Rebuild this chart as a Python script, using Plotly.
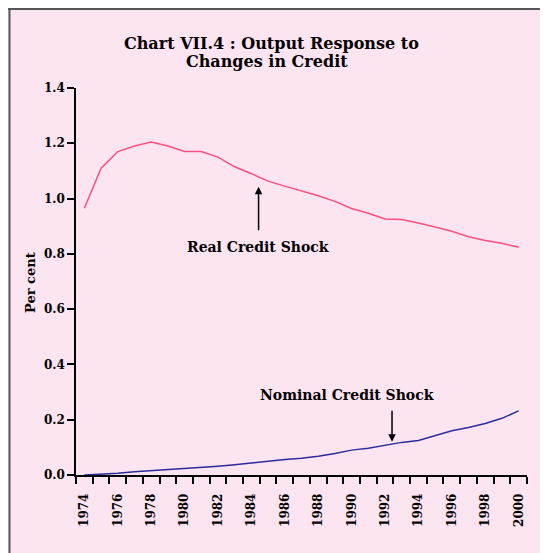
import plotly.graph_objects as go

years = list(range(1974, 2001))
real_credit = [0.965, 1.11, 1.17, 1.19, 1.205, 1.19, 1.17, 1.17, 1.15, 1.115,
               1.09, 1.063, 1.045, 1.028, 1.01, 0.99, 0.964, 0.947, 0.926, 0.924,
               0.912, 0.897, 0.882, 0.862, 0.848, 0.838, 0.824]
nominal_credit = [0.0, 0.002, 0.006, 0.012, 0.016, 0.019, 0.022, 0.027, 0.032, 0.037,
                  0.044, 0.05, 0.056, 0.061, 0.068, 0.078, 0.09, 0.097, 0.108, 0.118,
                  0.125, 0.142, 0.16, 0.172, 0.186, 0.205, 0.232]
x_tick_vals = list(range(1974, 2001, 2))
y_tick_vals = [0.0, 0.2, 0.4, 0.6, 0.8, 1.0, 1.2, 1.4]
title_lines = ["Chart VII.4 : Output Response to", "Changes in Credit"]

FONT = "DejaVu Serif"
PINK = "#fce4f0"

fig = go.Figure()
fig.add_trace(go.Scatter(x=years, y=real_credit, mode="lines",
                         line=dict(color="#ff4f80", width=1.5), name="Real Credit Shock"))
fig.add_trace(go.Scatter(x=years, y=nominal_credit, mode="lines",
                         line=dict(color="#2b2b9b", width=1.5), name="Nominal Credit Shock"))

OFF = 8  # page body margin
L, R, T, B = 76 - OFF, 21, 88 - OFF, 78
W, H = 548 - OFF, 553 - OFF
pw, ph = W - L - R, H - T - B

def px2x(p):
    return (p - OFF - L) / pw

def py2y(p):
    return 1 - (p - OFF - T) / ph

# pink panel with top/left border
fig.add_shape(type="rect", xref="paper", yref="paper",
              x0=px2x(8), x1=px2x(560), y0=py2y(565), y1=py2y(8),
              fillcolor=PINK, line=dict(width=0), layer="below")
fig.add_shape(type="line", xref="paper", yref="paper",
              x0=px2x(8), x1=px2x(560), y0=py2y(9), y1=py2y(9),
              line=dict(color="#555555", width=2), layer="below")
fig.add_shape(type="line", xref="paper", yref="paper",
              x0=px2x(9.5), x1=px2x(9.5), y0=py2y(8), y1=py2y(565),
              line=dict(color="#555555", width=2), layer="below")

fig.update_layout(
    width=W, height=H,
    margin=dict(l=L, r=R, t=T, b=B),
    paper_bgcolor="white",
    plot_bgcolor="rgba(0,0,0,0)",
    showlegend=False,
    font=dict(family=FONT, color="black"),
)

for txt, cx, cy in zip(title_lines, [271, 267], [43, 62]):
    fig.add_annotation(text=f"<b>{txt}</b>", xref="paper", yref="paper",
                       x=px2x(cx), y=py2y(cy), xanchor="center", yanchor="middle",
                       showarrow=False, font=dict(family=FONT, size=16, color="black"))

fig.update_xaxes(
    range=[1973.5, 2000.5], tickmode="array", tickvals=x_tick_vals,
    ticktext=[f"<b>{v}</b>" for v in x_tick_vals],
    tickangle=-90, ticks="outside", ticklen=12, tickcolor="rgba(0,0,0,0)",
    tickfont=dict(family=FONT, size=12, color="black"),
    minor=dict(tickmode="linear", tick0=1973.5, dtick=1, ticks="outside",
               ticklen=7, tickwidth=1.5, tickcolor="black", showgrid=False),
    showline=True, linecolor="black", linewidth=1.5,
    showgrid=False, zeroline=False, fixedrange=True,
)
fig.update_yaxes(
    range=[0, 1.4], tickmode="array", tickvals=y_tick_vals,
    ticktext=[f"<b>{v:.1f}</b>" for v in y_tick_vals],
    ticks="outside", ticklen=7, tickwidth=1.5, tickcolor="black",
    tickfont=dict(family=FONT, size=12, color="black"),
    showline=True, linecolor="black", linewidth=1.5,
    showgrid=False, zeroline=False,
)

fig.add_annotation(text="<b>Per cent</b>", xref="paper", yref="paper",
                   x=px2x(30), y=py2y(283), xanchor="center", yanchor="middle",
                   textangle=-90, showarrow=False,
                   font=dict(family=FONT, size=13, color="black"))

# Real credit shock annotation
fig.add_annotation(text="<b>Real Credit Shock</b>", x=1984.42, y=0.826,
                   xref="x", yref="y", showarrow=False,
                   font=dict(family=FONT, size=14, color="black"))
fig.add_annotation(text="", x=1984.43, y=1.043, ax=1984.43, ay=0.88,
                   xref="x", yref="y", axref="x", ayref="y", showarrow=True,
                   arrowhead=2, arrowsize=1, arrowwidth=1.5, arrowcolor="black",
                   standoff=0, startstandoff=0)

# Nominal credit shock annotation
fig.add_annotation(text="<b>Nominal Credit Shock</b>", x=1989.75, y=0.289,
                   xref="x", yref="y", showarrow=False,
                   font=dict(family=FONT, size=14, color="black"))
fig.add_annotation(text="", x=1992.42, y=0.12, ax=1992.42, ay=0.238,
                   xref="x", yref="y", axref="x", ayref="y", showarrow=True,
                   arrowhead=2, arrowsize=1, arrowwidth=1.5, arrowcolor="black",
                   standoff=0, startstandoff=0)

fig.write_html("out.html")
